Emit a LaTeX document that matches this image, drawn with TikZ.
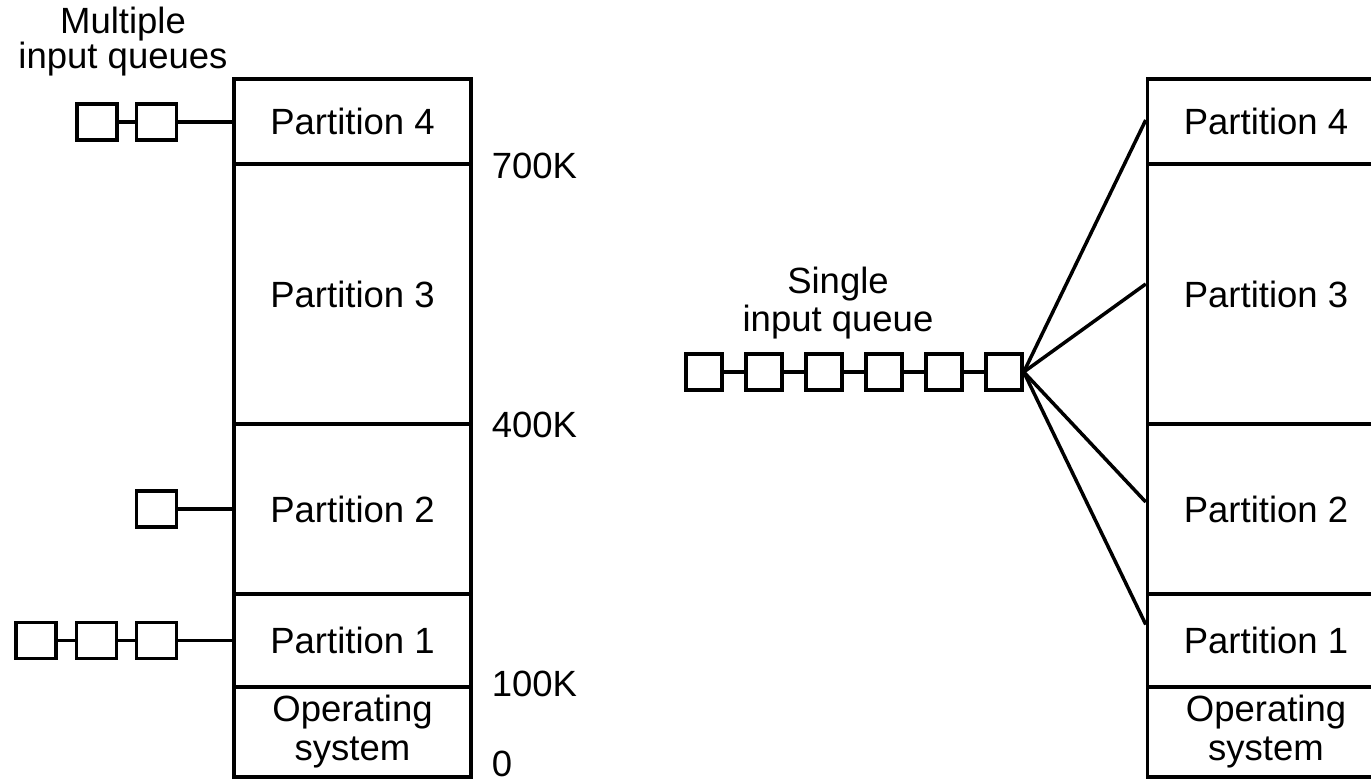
\documentclass[tikz,border=0pt]{standalone}
\usepackage{fontspec}
\setmainfont{Liberation Sans}
\usetikzlibrary{calc}
\begin{document}
\begin{tikzpicture}[x=1pt,y=-1pt, line width=3.5pt,
  part/.style={draw, minimum width=237pt, inner sep=0pt, align=center, font=\fontsize{36.5}{39}\selectfont},
  qbox/.style={draw, minimum width=40pt, minimum height=36pt, inner sep=0pt},
  sbox/.style={draw, minimum width=36pt, minimum height=36pt, inner sep=0pt},
  lbl/.style={font=\fontsize{36.5}{35}\selectfont, inner sep=0pt, align=center},
  lbltwo/.style={font=\fontsize{36.5}{38}\selectfont, inner sep=0pt, align=center}]
\useasboundingbox (0,0) rectangle (1371,784);
\clip (0,0) rectangle (1371,784);

% left memory column
\node[part, minimum height=85pt]  (L4) at (352.5,121.5) {Partition 4};
\node[part, minimum height=260pt] (L3) at (352.5,294)   {Partition 3};
\node[part, minimum height=170pt] (L2) at (352.5,509)   {Partition 2};
\node[part, minimum height=93pt]  (L1) at (352.5,640.5) {Partition 1};
\node[part, minimum height=90pt]  (L0) at (352.5,732)   {Operating\\system};

% address labels
\node[lbl, anchor=west] (k700) at (490,166) {700K};
\node[lbl, anchor=west] (k400) at (490,425) {400K};
\node[lbl, anchor=west] (k100) at (490,684) {100K};
\node[lbl, anchor=west] (k0)   at (490,764) {0};

% multiple input queues
\node[lbl] (mtitle) at (123,41.5) {Multiple\\input queues};
\node[qbox] (a1) at (97,122) {};
\node[qbox] (a2) at (156.5,122) {};
\draw (a1) -- (a2);
\draw (a2.east) -- (a2.east -| L4.west);

\node[qbox] (b1) at (156.5,509) {};
\draw (b1.east) -- (b1.east -| L2.west);

\node[qbox] (c1) at (36,640.5) {};
\node[qbox] (c2) at (96.5,640.5) {};
\node[qbox] (c3) at (156.5,640.5) {};
\draw (c1) -- (c2);
\draw (c2) -- (c3);
\draw (c3.east) -- (c3.east -| L1.west);

% right memory column
\node[part, minimum height=85pt]  (R4) at (1266,121.5) {Partition 4};
\node[part, minimum height=260pt] (R3) at (1266,294)   {Partition 3};
\node[part, minimum height=170pt] (R2) at (1266,509)   {Partition 2};
\node[part, minimum height=93pt]  (R1) at (1266,640.5) {Partition 1};
\node[part, minimum height=90pt]  (R0) at (1266,732)   {Operating\\system};

% single input queue
\node[lbltwo] (stitle) at (838,303) {Single\\input queue};
\node[sbox] (s1) at (704,372) {};
\node[sbox] (s2) at (764,372) {};
\node[sbox] (s3) at (824,372) {};
\node[sbox] (s4) at (884,372) {};
\node[sbox] (s5) at (944,372) {};
\node[sbox] (s6) at (1004,372) {};
\draw (s1) -- (s2);
\draw (s2) -- (s3);
\draw (s3) -- (s4);
\draw (s4) -- (s5);
\draw (s5) -- (s6);
\draw (s6.east) -- ($(R4.west)+(0,-1.5)$);
\draw (s6.east) -- ($(R3.west)+(0,-10)$);
\draw (s6.east) -- ($(R2.west)+(0,-7)$);
\draw (s6.east) -- ($(R1.west)+(0,-16)$);
\end{tikzpicture}
\end{document}
